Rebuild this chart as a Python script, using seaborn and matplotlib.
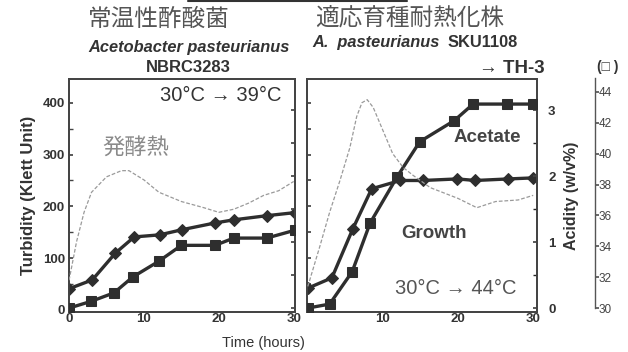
import matplotlib
matplotlib.use("Agg")
import matplotlib.pyplot as plt
import seaborn as sns
from matplotlib.ticker import MultipleLocator, FixedLocator

sns.set_theme(style="white")
plt.rcParams['font.family'] = ['Liberation Sans', 'Noto Sans CJK JP', 'DejaVu Sans']

# --- data ---
# left panel: wild strain NBRC3283, 30C -> 39C
left_growth_t = [0, 3.1, 6.2, 8.7, 12.1, 15.1, 19.5, 22, 26.4, 30.2]
left_growth = [41, 58, 110, 141, 145, 155, 168, 174, 182, 188]
left_acid_t = [0, 2.9, 6.0, 8.5, 12, 15, 19.5, 22, 26.4, 30.2]
left_acid = [0.0, 0.1, 0.23, 0.47, 0.71, 0.95, 0.95, 1.06, 1.06, 1.18]
left_temp_t = [0, 1, 2, 3, 5, 7, 8, 10, 12, 15, 18, 20, 22, 24, 26, 28, 30]
left_temp = [31.8, 34.3, 36.2, 37.5, 38.5, 38.9, 38.9, 38.3, 37.5, 36.9, 36.5, 36.2, 36.4,
             36.8, 37.3, 37.6, 38.2]

# right panel: adapted strain TH-3, 30C -> 44C
right_growth_t = [0, 3.2, 6, 8.5, 12.3, 15.3, 19.9, 22.3, 26.7, 30]
right_growth = [42, 62, 157, 234, 250, 250, 253, 250, 253, 255]
right_acid_t = [0, 2.9, 5.9, 8.3, 11.9, 14.9, 19.5, 22, 26.5, 30]
right_acid = [0.0, 0.06, 0.55, 1.29, 1.99, 2.52, 2.84, 3.09, 3.09, 3.09]
right_temp_t = [0, 1.6, 2.9, 4.3, 5.6, 6.5, 7.2, 7.9, 8.7, 10, 11.3, 12.7, 14, 16.3,
                20, 22.5, 25, 28, 30]
right_temp = [31.4, 34.0, 36.2, 38.3, 40.4, 42.4, 43.3, 43.5, 43.0, 41.5, 40.0, 39.1,
              38.6, 37.8, 37.1, 36.5, 36.9, 37.0, 37.3]

turb_lim = (-4, 446)
acid_lim = (-0.06, 3.47)
temp_lim = (29.74, 44.84)

dark = "#2e2e2e"
grey = "#9a9a9a"
txt = "#333333"

fig = plt.figure(figsize=(6.28, 3.52), dpi=100)
axL = fig.add_axes([0.110, 0.1136, 0.360, 0.662])
axR = fig.add_axes([0.489, 0.1136, 0.366, 0.662])


def draw_panel(ax, gt, g, at, a, tt, tv, xlim):
    ax.set_xlim(*xlim)
    ax.set_ylim(*turb_lim)
    axA = ax.twinx()
    axA.set_ylim(*acid_lim)
    axT = ax.twinx()
    axT.set_ylim(*temp_lim)
    axT.axis("off")
    sns.lineplot(x=tt, y=tv, ax=axT, color=grey, lw=0.9, linestyle=(0, (3, 1.5)))
    sns.lineplot(x=gt, y=g, ax=ax, color=dark, lw=2.4, marker="D", markersize=6.5,
                 markeredgecolor=dark, zorder=5)
    sns.lineplot(x=at, y=a, ax=axA, color=dark, lw=2.4, marker="s", markersize=6.5,
                 markeredgecolor=dark, zorder=5)
    for a_ in (ax, axA):
        a_.set_xlabel("")
        a_.set_ylabel("")
        for s in a_.spines.values():
            s.set_color("#444444")
            s.set_linewidth(1.3)
    ax.xaxis.set_major_locator(FixedLocator([0, 10, 20, 30]))
    ax.tick_params(axis="x", direction="in", length=4, color="#444444", labelsize=9.5,
                   labelcolor=txt, pad=1)
    axA.yaxis.set_major_locator(MultipleLocator(0.5))
    axA.tick_params(axis="y", direction="in", length=3, color="#444444", labelright=False)
    return axA


axAL = draw_panel(axL, left_growth_t, left_growth, left_acid_t, left_acid,
                  left_temp_t, left_temp, (0, 30.2))
axAR = draw_panel(axR, right_growth_t, right_growth, right_acid_t, right_acid,
                  right_temp_t, right_temp, (-0.1, 30.5))

# left panel turbidity axis
axL.yaxis.set_major_locator(FixedLocator([0, 100, 200, 300, 400]))
axL.yaxis.set_minor_locator(FixedLocator([50, 150, 250, 350]))
axL.tick_params(axis="y", which="both", direction="in", length=3, color="#444444",
                left=True, labelsize=9.5, labelcolor=txt, pad=3)
for lab in axL.get_yticklabels() + axL.get_xticklabels():
    lab.set_fontweight("bold")
axL.set_ylabel("Turbidity (Klett Unit)", fontsize=12, fontweight="bold", color=txt, labelpad=5)

# right panel: turbidity ticks without labels, acidity labelled on the right
axR.yaxis.set_major_locator(MultipleLocator(50))
axR.tick_params(axis="y", direction="in", length=3, color="#444444", left=True,
                labelleft=False)
axR.xaxis.set_major_locator(FixedLocator([10, 20, 30]))
for lab in axR.get_xticklabels():
    lab.set_fontweight("bold")
axAR.yaxis.set_major_locator(FixedLocator([0, 1, 2, 3]))
axAR.yaxis.set_minor_locator(MultipleLocator(0.5))
axAR.tick_params(axis="y", which="both", direction="in", length=3, labelright=True,
                 labelsize=9.5, labelcolor=txt, pad=8)
for lab in axAR.get_yticklabels():
    lab.set_fontweight("bold")
axAR.set_ylabel("Acidity (w/v%)", fontsize=11.5, fontweight="bold", color=txt, labelpad=6)

# separate temperature scale on the far right
axTemp = fig.add_axes([0.60, 0.1136, 0.947 - 0.60, 0.662])
axTemp.set_ylim(*temp_lim)
axTemp.patch.set_visible(False)
for side in ("left", "top", "bottom"):
    axTemp.spines[side].set_visible(False)
axTemp.spines["right"].set_bounds(30, 44.9)
axTemp.spines["right"].set_color("#555555")
axTemp.spines["right"].set_linewidth(1.0)
axTemp.set_xticks([])
axTemp.yaxis.tick_right()
axTemp.set_yticks([30, 32, 34, 36, 38, 40, 42, 44])
axTemp.tick_params(axis="y", direction="out", length=3, color="#555555", labelsize=8.5,
                   labelcolor="#444444", pad=0)
fig.text(0.968, 0.81, "(□ )", ha="center", va="center", fontsize=10, color=txt,
         fontweight="bold")

# headings
fig.text(0.253, 0.945, "常温性酢酸菌", ha="center", va="center", fontsize=17, color="#555555",
         family=["Noto Sans CJK JP"])
fig.text(0.301, 0.864, "Acetobacter pasteurianus", ha="center", va="center", fontsize=11.8,
         style="italic", fontweight="bold", color=txt)
fig.text(0.300, 0.807, "NBRC3283", ha="center", va="center", fontsize=12, fontweight="bold",
         color=txt)
fig.text(0.653, 0.945, "適応育種耐熱化株", ha="center", va="center", fontsize=17,
         color="#555555", family=["Noto Sans CJK JP"])
fig.text(0.497, 0.878, "A.  pasteurianus", ha="left", va="center", fontsize=11.8,
         style="italic", fontweight="bold", color=txt)
fig.text(0.713, 0.878, "SKU1108", ha="left", va="center", fontsize=11.8, fontweight="bold",
         color=txt)
fig.text(0.815, 0.804, "→ TH-3", ha="center", va="center", fontsize=13.5, fontweight="bold",
         color=txt)
fig.text(0.419, 0.025, "Time (hours)", ha="center", va="center", fontsize=10.5, color=txt)
fig.add_artist(plt.Line2D([0.30, 0.648], [0.997, 0.997], color="#333333", lw=1.5))

# in-plot notes
axL.text(0.94, 0.93, "30°C → 39°C", transform=axL.transAxes, ha="right", va="center",
         fontsize=14.5, color=txt)
axL.text(0.296, 0.708, "発酵熱", transform=axL.transAxes, ha="center", va="center",
         fontsize=16, color="#8a8a8a", family=["Noto Sans CJK JP"])
axR.text(0.783, 0.747, "Acetate", transform=axR.transAxes, ha="center", va="center",
         fontsize=13.5, fontweight="bold", color="#444444")
axR.text(0.552, 0.339, "Growth", transform=axR.transAxes, ha="center", va="center",
         fontsize=13.5, fontweight="bold", color="#444444")
axR.text(0.645, 0.103, "30°C → 44°C", transform=axR.transAxes, ha="center", va="center",
         fontsize=14.5, color="#555555")

fig.savefig("out.png", dpi=100)
